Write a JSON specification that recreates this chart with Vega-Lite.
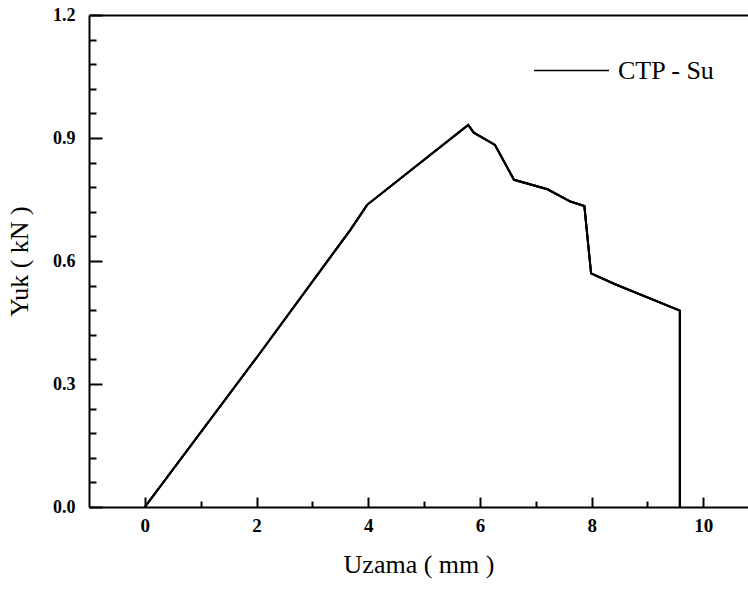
{
  "$schema": "https://vega.github.io/schema/vega-lite/v6.json",
  "width": 659,
  "height": 492,
  "autosize": {"type": "none"},
  "padding": {"left": 89, "top": 15, "right": 0, "bottom": 82},
  "background": "white",
  "config": {
    "view": {"stroke": null},
    "font": "Liberation Serif",
    "axis": {"domainColor": "black", "tickColor": "black", "labelColor": "black", "titleColor": "black", "grid": false, "labelFont": "Liberation Serif", "titleFont": "Liberation Serif"}
  },
  "data": {
    "values": [
      {"o": 1, "x": 0, "y": 0, "s": "CTP - Su"},
      {"o": 2, "x": 2.06, "y": 0.375, "s": "CTP - Su"},
      {"o": 3, "x": 3.68, "y": 0.676, "s": "CTP - Su"},
      {"o": 4, "x": 3.98, "y": 0.737, "s": "CTP - Su"},
      {"o": 5, "x": 5.79, "y": 0.932, "s": "CTP - Su"},
      {"o": 6, "x": 5.89, "y": 0.913, "s": "CTP - Su"},
      {"o": 7, "x": 6.27, "y": 0.883, "s": "CTP - Su"},
      {"o": 8, "x": 6.61, "y": 0.798, "s": "CTP - Su"},
      {"o": 9, "x": 7.21, "y": 0.775, "s": "CTP - Su"},
      {"o": 10, "x": 7.62, "y": 0.745, "s": "CTP - Su"},
      {"o": 11, "x": 7.87, "y": 0.734, "s": "CTP - Su"},
      {"o": 12, "x": 7.99, "y": 0.57, "s": "CTP - Su"},
      {"o": 13, "x": 8.41, "y": 0.544, "s": "CTP - Su"},
      {"o": 14, "x": 9.58, "y": 0.479, "s": "CTP - Su"},
      {"o": 15, "x": 9.58, "y": 0.0, "s": "CTP - Su"}
    ]
  },
  "resolve": {"axis": {"x": "independent", "y": "independent"}},
  "layer": [
    {
      "mark": {"type": "line", "strokeWidth": 2, "clip": true},
      "encoding": {
        "x": {"field": "x", "type": "quantitative", "scale": {"domain": [-1, 10.8], "nice": false, "zero": false},
          "axis": {"orient": "bottom", "values": [0, 2, 4, 6, 8, 10], "tickSize": -10, "tickWidth": 2, "domainWidth": 2, "labelFont": "Liberation Serif", "labelFontSize": 19, "labelFontWeight": "bold", "labelPadding": 19, "title": "Uzama ( mm )", "titleFont": "Liberation Serif", "titleFontSize": 26, "titleFontWeight": "normal", "titlePadding": 16}},
        "y": {"field": "y", "type": "quantitative", "scale": {"domain": [0, 1.2], "nice": false},
          "axis": {"orient": "left", "values": [0, 0.3, 0.6, 0.9, 1.2], "format": ".1f", "tickSize": -13, "tickWidth": 2, "domainWidth": 2, "labelFont": "Liberation Serif", "labelFontSize": 18, "labelFontWeight": "bold", "labelPadding": 27, "title": "Yuk ( kN )", "titleFont": "Liberation Serif", "titleFontSize": 26, "titleFontWeight": "normal", "titlePadding": 20}},
        "order": {"field": "o"},
        "color": {"field": "s", "type": "nominal", "scale": {"range": ["black"]},
          "legend": {"orient": "none", "legendX": 444, "legendY": 17, "title": null, "symbolType": "stroke", "symbolSize": 5625, "symbolStrokeWidth": 1.5, "symbolStrokeColor": "black", "labelFont": "Liberation Serif", "labelFontSize": 26, "labelColor": "black", "labelOffset": 8, "padding": 0}}
      }
    },
    {
      "mark": {"type": "line", "strokeWidth": 2, "color": "black", "clip": true},
      "encoding": {
        "x": {"field": "x", "type": "quantitative",
          "axis": {"orient": "bottom", "values": [1, 3, 5, 7, 9], "tickSize": -6, "tickWidth": 2, "labels": false, "domain": false, "title": null}},
        "y": {"field": "y", "type": "quantitative",
          "axis": {"orient": "left", "values": [0.06, 0.12, 0.18, 0.24, 0.36, 0.42, 0.48, 0.54, 0.66, 0.72, 0.78, 0.84, 0.96, 1.02, 1.08, 1.14], "tickSize": -7, "tickWidth": 2, "labels": false, "domain": false, "title": null}},
        "order": {"field": "o"}
      }
    },
    {
      "mark": {"type": "line", "strokeWidth": 2, "color": "black", "clip": true},
      "encoding": {
        "x": {"field": "x", "type": "quantitative",
          "axis": {"orient": "top", "ticks": false, "labels": false, "domainWidth": 2, "title": null}},
        "y": {"field": "y", "type": "quantitative", "axis": null},
        "order": {"field": "o"}
      }
    }
  ]
}
